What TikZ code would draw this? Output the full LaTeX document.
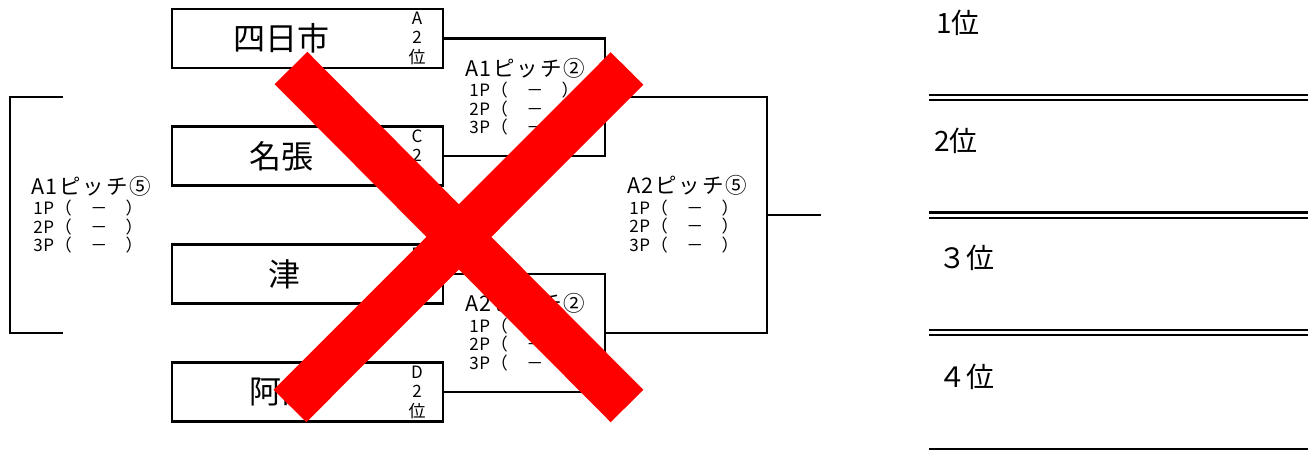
\documentclass[tikz,border=0pt]{standalone}
\usepackage{fontspec}
\setmainfont{Noto Sans CJK JP}
\newfontfamily\jpwide[LetterSpace=8]{Noto Sans CJK JP}
\newfontfamily\jpscore[LetterSpace=4]{Noto Sans CJK JP}
\tikzset{
  team/.style={draw,line width=2.6pt,fill=white,minimum width=271pt,minimum height=59pt,inner sep=0pt},
  teamname/.style={font=\fontsize{32}{34}\selectfont,inner sep=0pt},
  rank/.style={font=\fontsize{17}{19.5}\selectfont,align=center,inner sep=0pt},
  pitch/.style={font=\jpwide\fontsize{21.5}{22}\selectfont,inner sep=0pt},
  score/.style={font=\jpscore\fontsize{17}{18.5}\selectfont,align=center,inner sep=0pt},
  place/.style={font=\fontsize{28}{30}\selectfont,anchor=west,inner sep=0pt},
  bracket/.style={line width=2.8pt},
  rankrule/.style={double,double distance=3pt,line width=2.2pt},
  cross/.style={line width=46pt,red}
}
\begin{document}
\begin{tikzpicture}[x=1pt,y=-1pt]
  \useasboundingbox (0,0) rectangle (1316,452);
  \node[team] (t1) at (307.5,38.5) {};
  \node[team] (t2) at (307.5,156) {};
  \node[team] (t3) at (307.5,274) {};
  \node[team] (t4) at (307.5,392) {};
  \node[teamname] (n1) at (281,38.5) {四日市};
  \node[teamname] (n2) at (281,156) {名張};
  \node[teamname] (n3) at (284,274) {津};
  \node[teamname] (n4) at (281,392) {阿山};
  \node[rank] (r1) at (417,38) {A\\2\\位};
  \node[rank] (r2) at (417,156) {C\\2\\位};
  \node[rank] (r3) at (417,274) {B\\2\\位};
  \node[rank] (r4) at (417,392) {D\\2\\位};
  \coordinate (m1) at (605,97);
  \coordinate (m2) at (605,333);
  \coordinate (f) at (767,215);
  \coordinate (out) at (821,215);
  \draw[bracket] (t1.east) -| (m1) |- (t2.east);
  \draw[bracket] (t3.east) -| (m2) |- (t4.east);
  \draw[bracket] (m1) -| (f) |- (m2);
  \draw[bracket] (f) -- (out);
  \coordinate (lt) at (63,97);
  \coordinate (lb) at (63,333);
  \draw[bracket] (lt) -- ++(-53,0) |- (lb);
  \node[pitch] (a1two) at (525,68.5) {A1ピッチ②};
  \node[score] (s1) at (524,109) {1P（　－　）\\2P（　－　）\\3P（　－　）};
  \node[pitch] (a2two) at (525,303) {A2ピッチ②};
  \node[score] (s2) at (524,344.5) {1P（　－　）\\2P（　－　）\\3P（　－　）};
  \node[pitch] (a1five) at (91,186) {A1ピッチ⑤};
  \node[score] (s3) at (88,227) {1P（　－　）\\2P（　－　）\\3P（　－　）};
  \node[pitch] (a2five) at (687,185.5) {A2ピッチ⑤};
  \node[score] (s4) at (684,226.5) {1P（　－　）\\2P（　－　）\\3P（　－　）};
  \node[place] (p1) at (936,23) {1位};
  \node[place] (p2) at (934,141) {2位};
  \node[place] (p3) at (938,258) {３位};
  \node[place] (p4) at (938,377) {４位};
  \foreach \y in {97.5,215,332.5}
    \draw[rankrule] (929,\y) -- (1308,\y);
  \draw[line width=2.2pt] (929,449) -- (1308,449);
  \draw[cross] (291,68) -- (627,406);
  \draw[cross] (290,406) -- (627,68.5);
\end{tikzpicture}
\end{document}
